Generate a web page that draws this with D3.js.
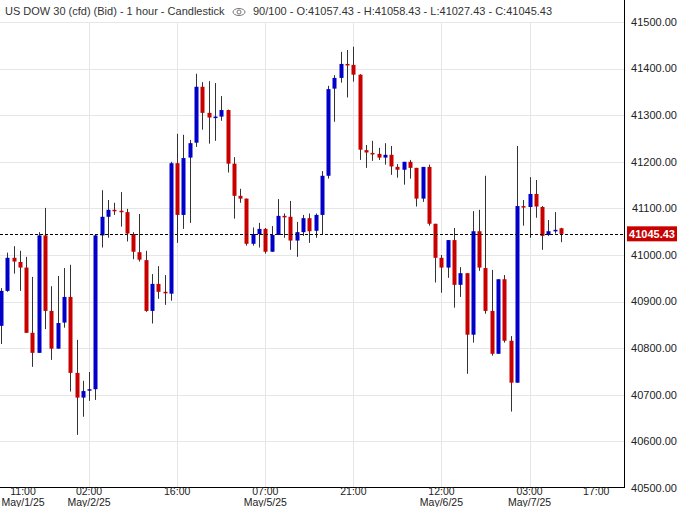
<!DOCTYPE html>
<html>
<head>
<meta charset="utf-8">
<script src="https://cdn.jsdelivr.net/npm/d3@7"></script>
<style>
  body { margin: 0; background: #fff; }
  svg { display: block; font-family: Arial, "Liberation Sans", sans-serif; }
</style>
</head>
<body>
<svg id="chart" width="685" height="507"></svg>
<script>
// hourly candles, oldest first
const opens  = [40848,40923,40994,40985,40973,40833,40790,41042,40880,40799,40855,40910,40747,40694,40709,40712,41042,41082,41097,41095,41092,41045,41006,40989,40880,40938,40921,40917,41197,41086,41209,41241,41361,41305,41295,41297,41311,41196,41127,41121,41024,41045,41056,41007,41043,41084,41082,41031,41049,41079,41052,41086,41170,41357,41380,41410,41408,41387,41225,41219,41217,41209,41215,41189,41183,41200,41187,41121,41189,41067,40994,40973,41032,40936,40961,40829,41051,40972,40880,40788,40948,40816,40726,41105,41103,41131,41103,41043,41052,41057.43];
const highs  = [40929,41005,41019,41009,40996,40953,41049,41101,40933,40955,40972,40979,40818,40730,40749,41043,41139,41118,41112,41135,41099,41049,41088,41009,40959,40976,40957,41200,41260,41258,41247,41389,41371,41373,41369,41341,41312,41210,41142,41121,41059,41069,41058,41062,41120,41089,41116,41071,41086,41089,41089,41180,41363,41386,41436,41440,41447,41388,41236,41245,41230,41240,41234,41195,41200,41204,41187,41189,41194,41067,41000,41032,41058,40974,40961,41094,41097,41170,40968,40948,40957,40826,41234,41118,41167,41161,41105,41075,41092,41058.43];
const lows   = [40809,40921,40960,40923,40833,40760,40790,40841,40775,40799,40844,40707,40614,40653,40687,40689,41016,41037,41086,41061,41029,40991,40986,40878,40853,40906,40893,40902,41026,41056,41069,41232,41269,41239,41245,41288,41177,41078,41112,41020,41020,41016,41003,41007,41043,41037,41011,40996,41041,41026,41037,41043,41164,41286,41370,41338,41372,41204,41187,41202,41204,41194,41172,41166,41151,41164,41104,41114,41063,40941,40919,40951,40887,40910,40745,40812,40966,40874,40784,40788,40812,40664,40726,41063,41037,41080,41011,41041,41046,41027.43];
const closes = [40923,40994,40986,40973,40833,40790,41042,40880,40799,40854,40910,40747,40694,40708,40712,41042,41082,41097,41095,41093,41046,41007,40990,40880,40938,40921,40919,41197,41086,41208,41240,41361,41305,41295,41297,41311,41196,41127,41121,41024,41045,41056,41007,41043,41084,41082,41031,41049,41079,41051,41086,41170,41356,41380,41410,41408,41387,41226,41220,41217,41209,41215,41190,41183,41200,41187,41121,41189,41067,40994,40973,41032,40936,40961,40829,41051,40973,40880,40788,40948,40816,40726,41105,41103,41131,41104,41041,41051,41054,41045.43];

const priceTicks = [40500,40600,40700,40800,40900,41000,41100,41200,41300,41400,41500];
const timeTickIdx = [3.5,14,28,42,56,70,84,94.6];
const timeTickTime = ['11:00','02:00','16:00','07:00','21:00','12:00','03:00','17:00'];
const timeTickDate = ['May/1/25','May/2/25','','May/5/25','','May/6/25','May/7/25',''];
const lastPrice = 41045.43;
const title = 'US DOW 30 (cfd) (Bid) - 1 hour - Candlestick';
const info = '90/100 - O:41057.43 - H:41058.43 - L:41027.43 - C:41045.43';

const plot = { left: 0, right: 624, top: 0, bottom: 487 };
const svg = d3.select('#chart');

const x = d3.scaleLinear().domain([0, opens.length - 1]).range([1, 561]);
const y = d3.scaleLinear().domain([40500, 41500]).range([488, 22]);

svg.append('defs').append('clipPath').attr('id', 'clip')
  .append('rect').attr('x', plot.left).attr('y', plot.top)
  .attr('width', plot.right - plot.left).attr('height', plot.bottom - plot.top);

// grid
const grid = svg.append('g').attr('stroke', '#e6e6e6').attr('stroke-width', 1);
grid.selectAll('.h').data(priceTicks.slice(1)).join('line')
  .attr('x1', plot.left).attr('x2', plot.right)
  .attr('y1', d => Math.round(y(d)) + 0.5).attr('y2', d => Math.round(y(d)) + 0.5);
grid.selectAll('.v').data(timeTickIdx.slice(1, 7)).join('line')
  .attr('x1', d => Math.round(x(d)) + 0.5).attr('x2', d => Math.round(x(d)) + 0.5)
  .attr('y1', plot.top).attr('y2', plot.bottom);

// candles
const data = opens.map((o, i) => ({ i, o, h: highs[i], l: lows[i], c: closes[i] }));
const g = svg.append('g').attr('clip-path', 'url(#clip)');
const bw = 4;
g.selectAll('.wick').data(data).join('line')
  .attr('x1', d => Math.round(x(d.i)) + 0.5).attr('x2', d => Math.round(x(d.i)) + 0.5)
  .attr('y1', d => y(d.h)).attr('y2', d => y(d.l))
  .attr('stroke', '#333').attr('stroke-width', 1);
g.selectAll('.body').data(data).join('rect')
  .attr('x', d => Math.round(x(d.i)) + 0.5 - bw / 2)
  .attr('width', bw)
  .attr('y', d => y(Math.max(d.o, d.c)))
  .attr('height', d => Math.max(1.5, Math.abs(y(d.o) - y(d.c))))
  .attr('fill', d => d.c >= d.o ? '#0000c8' : '#c80000');

// last price dashed line
svg.append('line')
  .attr('x1', plot.left).attr('x2', plot.right)
  .attr('y1', Math.round(y(lastPrice)) + 0.5).attr('y2', Math.round(y(lastPrice)) + 0.5)
  .attr('stroke', '#000').attr('stroke-dasharray', '3,2');

// axis frame
svg.append('line').attr('x1', plot.right + 0.5).attr('x2', plot.right + 0.5)
  .attr('y1', 0).attr('y2', plot.bottom).attr('stroke', '#000');
svg.append('line').attr('x1', 0).attr('x2', plot.right + 1)
  .attr('y1', plot.bottom + 0.5).attr('y2', plot.bottom + 0.5).attr('stroke', '#000');

// price labels
svg.append('g').selectAll('text').data(priceTicks).join('text')
  .attr('x', 677).attr('y', d => y(d)).attr('dy', '0.35em')
  .attr('text-anchor', 'end').attr('font-size', 11).attr('fill', '#222')
  .text(d => d.toFixed(2));

const lp = svg.append('g').attr('transform', `translate(627, ${y(lastPrice)})`);
lp.append('rect').attr('x', 0).attr('y', -7.5).attr('width', 50).attr('height', 15).attr('fill', '#c80000');
lp.append('text').attr('x', 25).attr('y', 0).attr('dy', '0.35em').attr('text-anchor', 'middle')
  .attr('font-size', 11).attr('font-weight', 'bold').attr('fill', '#fff').text(lastPrice.toFixed(2));

// time labels
const tl = svg.append('g').attr('font-family', '"Liberation Sans Narrow", "Arial Narrow", Arial, sans-serif')
  .attr('font-size', 10.5).attr('fill', '#222').attr('text-anchor', 'middle');
tl.selectAll('.t').data(timeTickIdx).join('text')
  .attr('x', d => x(d)).attr('y', 495).text((d, i) => timeTickTime[i]);
tl.selectAll('.d').data(timeTickIdx).join('text')
  .attr('x', d => x(d)).attr('y', 505.5).text((d, i) => timeTickDate[i]);

// header
const hd = svg.append('g');
hd.append('rect').attr('x', 0).attr('y', 0).attr('width', 624).attr('height', 22).attr('fill', '#fff');
hd.append('text').attr('x', 5).attr('y', 15).attr('font-size', 11).attr('fill', '#333').text(title);
const eye = hd.append('g').attr('transform', 'translate(239,12)').attr('fill', 'none').attr('stroke', '#777');
eye.append('ellipse').attr('rx', 6).attr('ry', 3.5);
eye.append('circle').attr('r', 2);
hd.append('text').attr('x', 253).attr('y', 15).attr('font-size', 11).attr('fill', '#333').text(info);
</script>
</body>
</html>
